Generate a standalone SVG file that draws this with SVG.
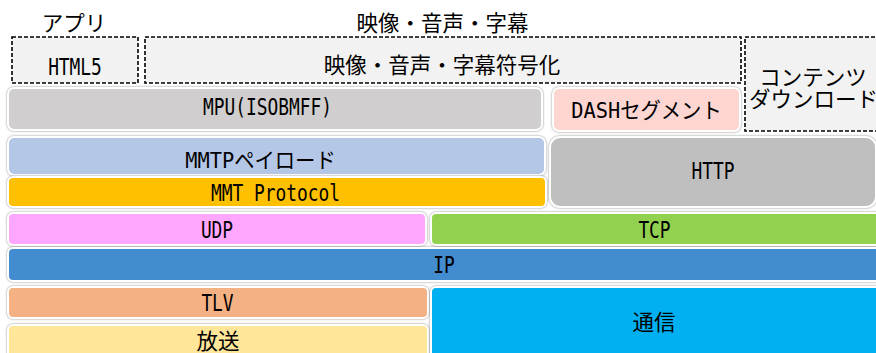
<svg xmlns="http://www.w3.org/2000/svg" width="876" height="353" viewBox="0 0 876 353">
<style>
.b{stroke:#ffffff;stroke-width:2;filter:drop-shadow(0 0 0.8px rgba(0,0,0,0.45));}
.d{fill:#f2f2f2;stroke:#000;stroke-width:1.6;stroke-dasharray:4 2;}
text{font-family:"DejaVu Sans Mono","Noto Sans CJK JP",monospace;font-size:21.5px;fill:#000;text-anchor:middle;}
.l{font-size:22.5px;}
.j{font-family:"Noto Sans CJK JP",sans-serif;}
</style>
<rect width="876" height="353" fill="#ffffff"/>
<g id="labels">
<text class="j" x="74" y="30.5">アプリ</text>
<text class="j" x="442.5" y="30.5">映像・音声・字幕</text>
</g>
<g id="html5"><rect class="d" x="12" y="37" width="126" height="46"/><text class="l" x="75" y="75" textLength="53.75" lengthAdjust="spacingAndGlyphs">HTML5</text></g>
<g id="codec"><rect class="d" x="145" y="37" width="596" height="46"/><text class="j" x="442" y="72.5">映像・音声・字幕符号化</text></g>
<g id="download"><rect class="d" x="745" y="37" width="140" height="94"/><text class="j" x="813" y="85">コンテンツ</text><text class="j" x="749" y="107" style="text-anchor:start">ダウンロード</text></g>
<g id="mpu"><rect class="b" x="8" y="88" width="534" height="42" rx="6" fill="#d0cece"/><text class="l" x="267.5" y="115" textLength="129" lengthAdjust="spacingAndGlyphs">MPU(ISOBMFF)</text></g>
<g id="dash"><rect class="b" x="553" y="88" width="187" height="43" rx="6" fill="#fdd5d1"/><text x="646.5" y="118" textLength="150.5" lengthAdjust="spacingAndGlyphs">DASHセグメント</text></g>
<g id="mmtp"><rect class="b" x="8" y="137" width="537" height="38" rx="6" fill="#b4c7e7"/><text x="260.5" y="168" textLength="150.5" lengthAdjust="spacingAndGlyphs">MMTPペイロード</text></g>
<g id="mmt"><rect class="b" x="8" y="177" width="538" height="30" rx="5" fill="#ffc000"/><text class="l" x="275.5" y="201" textLength="129" lengthAdjust="spacingAndGlyphs">MMT Protocol</text></g>
<g id="http"><rect class="b" x="550" y="137" width="326" height="70" rx="10" fill="#bfbfbf"/><text class="l" x="713" y="179" textLength="43" lengthAdjust="spacingAndGlyphs">HTTP</text></g>
<g id="udp"><rect class="b" x="8" y="213" width="418" height="32" rx="5" fill="#ffa7ff"/><text class="l" x="217" y="237.5" textLength="32.25" lengthAdjust="spacingAndGlyphs">UDP</text></g>
<g id="tcp"><rect class="b" x="431" y="213" width="450" height="32" rx="5" fill="#92d050"/><text class="l" x="654.5" y="237.5" textLength="32.25" lengthAdjust="spacingAndGlyphs">TCP</text></g>
<g id="ip"><rect class="b" x="8" y="248" width="873" height="33" rx="5" fill="#438ccf"/><text class="l" x="444" y="273" textLength="21.5" lengthAdjust="spacingAndGlyphs">IP</text></g>
<g id="tlv"><rect class="b" x="8" y="287" width="420" height="31" rx="5" fill="#f4b183"/><text class="l" x="217.5" y="311" textLength="32.25" lengthAdjust="spacingAndGlyphs">TLV</text></g>
<g id="broadcast"><rect class="b" x="8" y="325" width="420" height="36" rx="5" fill="#ffe699"/><text class="j" x="218" y="348.5">放送</text></g>
<g id="comm"><rect class="b" x="431" y="287" width="450" height="75" rx="5" fill="#00b0f0"/><text class="j" x="654" y="330">通信</text></g>
<g id="connectors"></g>
</svg>
